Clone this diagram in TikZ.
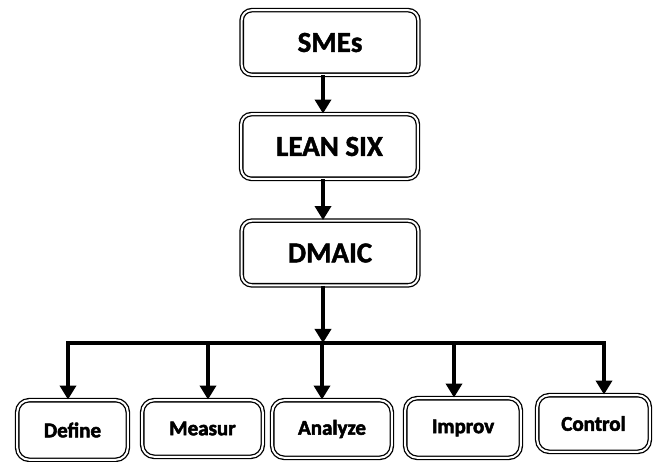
\documentclass[tikz,border=0pt]{standalone}
\usepackage{fontspec}
\setmainfont{Carlito}
\newfontfamily\heavy{Carlito Bold}[FakeBold=1.5]
\newfontfamily\heavier{Carlito Bold}[FakeBold=2.5]
\usetikzlibrary{arrows.meta}
\tikzset{
  box/.style={draw, double=white, double distance=2pt, line width=1.3pt,
    rounded corners=10pt, fill=white, inner sep=0pt},
  topbox/.style={box, minimum width=176.6pt, minimum height=64.6pt,
    font=\fontsize{29}{32}\selectfont\heavy},
  stepbox/.style={box, rounded corners=12pt,
    font=\fontsize{21}{24}\selectfont\heavier},
  flow/.style={line width=4.5pt, -{Triangle[width=16pt,length=14pt]}},
  busline/.style={line width=4.5pt, line cap=rect}
}
\begin{document}
\begin{tikzpicture}[x=1pt,y=-1pt]
\useasboundingbox (0,0) rectangle (656,462);

% main chain
\node[topbox] (sme)   at (330,42.5)  {SMEs};
\node[topbox] (lean)  at (329.5,146.5) {LEAN SIX};
\node[topbox] (dmaic) at (330,253)   {DMAIC};

% the five DMAIC phases
\node[stepbox, minimum width=110.6pt, minimum height=59.6pt] (def) at (72.5,430) {Define};
\node[stepbox, minimum width=120.6pt, minimum height=56.6pt] (mea) at (202.5,428.5) {Measur};
\node[stepbox, minimum width=119.6pt, minimum height=57.6pt] (ana) at (332,429) {Analyze};
\node[stepbox, minimum width=115.6pt, minimum height=59.6pt] (imp) at (463,428) {Improv};
\node[stepbox, minimum width=112.6pt, minimum height=56.6pt] (con) at (593.5,423.5) {Control};

% vertical spine and distribution bus
\coordinate (spine) at (323,0);
\coordinate (t1) at (68,343);
\coordinate (t2) at (208,343);
\coordinate (t3) at (322,343);
\coordinate (t4) at (454,343);
\coordinate (t5) at (604,343);

\draw[flow] (sme.south -| spine) -- (lean.north -| spine);
\draw[flow] (lean.south -| spine) -- (dmaic.north -| spine);
\draw[busline] (t1) -- (t5);
\draw[flow] (dmaic.south -| spine) -- (t1 -| spine);

\draw[flow] (t1) -- (t1 |- def.north);
\draw[flow] (t2) -- (t2 |- mea.north);
\draw[flow] (t3) -- (t3 |- ana.north);
\draw[flow] (t4) -- (t4 |- imp.north);
\draw[flow] (t5) -- (t5 |- con.north);
\end{tikzpicture}
\end{document}
